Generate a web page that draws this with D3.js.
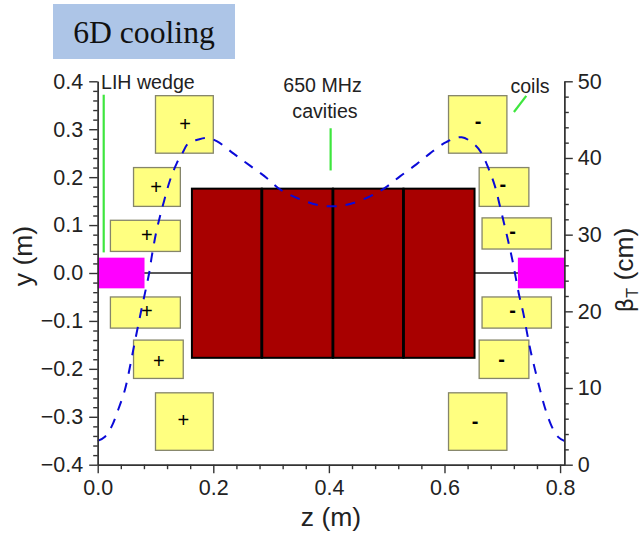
<!DOCTYPE html>
<html>
<head>
<meta charset="utf-8">
<script src="https://cdn.jsdelivr.net/npm/d3@7"></script>
<style>
body { margin: 0; background: #fff; }
text { font-family: "Liberation Sans", sans-serif; fill: #222; }
</style>
</head>
<body>
<script>
const zTicks = [0, 0.2, 0.4, 0.6, 0.8]
const yTicks = [-0.4, -0.3, -0.2, -0.1, 0, 0.1, 0.2, 0.3, 0.4]
const betaTicks = [0, 10, 20, 30, 40, 50]

// coil boxes, z and y in metres
const coilZ0 = [0.100, 0.062, 0.022, 0.022, 0.062, 0.100, 0.607, 0.660, 0.665, 0.665, 0.660, 0.607]
const coilZ1 = [0.200, 0.143, 0.143, 0.143, 0.148, 0.200, 0.708, 0.746, 0.785, 0.785, 0.746, 0.708]
const coilY0 = [0.250, 0.139, 0.045, -0.115, -0.220, -0.370, 0.250, 0.139, 0.050, -0.115, -0.220, -0.370]
const coilY1 = [0.370, 0.220, 0.110, -0.050, -0.140, -0.250, 0.370, 0.220, 0.115, -0.050, -0.140, -0.250]
const signText = ['+', '+', '+', '+', '+', '+', '-', '-', '-', '-', '-', '-']
const signZ = [0.151, 0.101, 0.085, 0.085, 0.106, 0.148, 0.658, 0.701, 0.718, 0.718, 0.699, 0.653]
const signY = [0.311, 0.179, 0.079, -0.079, -0.183, -0.307, 0.317, 0.185, 0.088, -0.077, -0.180, -0.309]

const cavityEdges = [0.163, 0.284, 0.407, 0.529, 0.652]
const cavityTop = 0.176
const cavityBottom = -0.177

const wedgeZ0 = [0, 0.727]
const wedgeZ1 = [0.081, 0.807]
const wedgeHalf = 0.032

const betaZ = [0, 0.0126, 0.0242, 0.0356, 0.0472, 0.0559, 0.0616, 0.0685, 0.0761, 0.083, 0.0893, 0.0934, 0.1009, 0.1078, 0.1152, 0.1251, 0.1367, 0.1471, 0.1567, 0.174, 0.1886, 0.2059, 0.2346, 0.2635, 0.2924, 0.3154, 0.3443, 0.3789, 0.4076, 0.4365, 0.4711, 0.4971, 0.523, 0.5519, 0.575, 0.6038, 0.6298, 0.6528, 0.6644, 0.6758, 0.6874, 0.696, 0.703, 0.7104, 0.718, 0.7289, 0.7363, 0.7433, 0.7491, 0.7566, 0.7652, 0.7739, 0.7855, 0.7969, 0.8073]
const betaVal = [3.1, 3.65, 5.0, 7.2, 9.8, 12.8, 15.0, 17.6, 20.4, 22.8, 25.1, 27.1, 30.2, 32.4, 34.5, 37.1, 39.3, 40.7, 41.9, 42.4, 42.6, 42.2, 40.6, 39.0, 37.4, 35.9, 34.8, 33.9, 33.7, 34.0, 35.0, 36.1, 37.6, 39.2, 40.6, 42.1, 42.7, 41.7, 40.6, 38.7, 36.3, 33.7, 31.5, 29.1, 26.5, 22.2, 19.8, 17.0, 14.8, 12.4, 9.8, 7.4, 5.0, 3.6, 3.1]

// green pointers: [z0, y0, z1, y1]
const pointers = [
    [0.0104, 0.372, 0.0104, 0.043],
    [0.403, 0.302, 0.403, 0.214],
    [0.7202, 0.336, 0.7415, 0.3695]
]

const margin = { left: 97.7, top: 81.3, right: 76.7, bottom: 68.3 }
const width = 641
const height = 533

const x = d3.scaleLinear().domain([0, 0.8073]).range([margin.left, width - margin.right])
const y = d3.scaleLinear().domain([-0.4, 0.4]).range([height - margin.bottom, margin.top])
const yBeta = d3.scaleLinear().domain([0, 50]).range([height - margin.bottom, margin.top])

const svg = d3.select('body').append('svg')
    .attr('width', width)
    .attr('height', height)
    .attr('viewBox', `0 0 ${width} ${height}`)
    .style('display', 'block')

// title
svg.append('rect').attr('x', 53).attr('y', 4).attr('width', 182).attr('height', 55).attr('fill', '#adc5e7')
svg.append('text').attr('x', 144).attr('y', 43).attr('text-anchor', 'middle')
    .style('font-family', '"Liberation Serif", serif').style('font-size', '31.7px').style('fill', '#111')
    .text('6D cooling')

// beam line
svg.append('line').attr('x1', x(0)).attr('x2', x(0.8073)).attr('y1', y(0)).attr('y2', y(0))
    .attr('stroke', '#222').attr('stroke-width', 1.4)

// wedges
svg.selectAll('.wedge').data(wedgeZ0).enter().append('rect')
    .attr('class', 'wedge')
    .attr('x', d => x(d))
    .attr('width', (d, i) => x(wedgeZ1[i]) - x(d))
    .attr('y', y(wedgeHalf))
    .attr('height', y(-wedgeHalf) - y(wedgeHalf))
    .attr('fill', '#ff00ff')

// coils
svg.selectAll('.coil').data(coilZ0).enter().append('rect')
    .attr('class', 'coil')
    .attr('x', d => x(d))
    .attr('width', (d, i) => x(coilZ1[i]) - x(d))
    .attr('y', (d, i) => y(coilY1[i]))
    .attr('height', (d, i) => y(coilY0[i]) - y(coilY1[i]))
    .attr('fill', '#ffff80')
    .attr('stroke', '#85856a')
    .attr('stroke-width', 1.3)

svg.selectAll('.sign').data(signText).enter().append('text')
    .attr('class', 'sign')
    .attr('x', (d, i) => x(signZ[i]))
    .attr('y', (d, i) => y(signY[i]) + 7)
    .attr('text-anchor', 'middle')
    .style('font-size', '20px')
    .style('font-weight', d => d === '-' ? 'bold' : 'normal')
    .style('fill', '#000')
    .text(d => d)

// cavities
svg.selectAll('.cavity').data(cavityEdges.slice(1)).enter().append('rect')
    .attr('class', 'cavity')
    .attr('x', (d, i) => x(cavityEdges[i]))
    .attr('width', (d, i) => x(d) - x(cavityEdges[i]))
    .attr('y', y(cavityTop))
    .attr('height', y(cavityBottom) - y(cavityTop))
    .attr('fill', '#a80000')
    .attr('stroke', '#000')
    .attr('stroke-width', 2)

// thicker walls between cavities
svg.selectAll('.wall').data(cavityEdges.slice(1, -1)).enter().append('line')
    .attr('class', 'wall')
    .attr('x1', d => x(d)).attr('x2', d => x(d))
    .attr('y1', y(cavityTop)).attr('y2', y(cavityBottom))
    .attr('stroke', '#000')
    .attr('stroke-width', 2.8)

// beta function
const line = d3.line().x((d, i) => x(betaZ[i])).y(d => yBeta(d)).curve(d3.curveCatmullRom)
svg.append('path').datum(betaVal)
    .attr('d', line)
    .attr('fill', 'none')
    .attr('stroke', '#0a0ad8')
    .attr('stroke-width', 2)
    .attr('stroke-dasharray', '10 9')

// pointers
svg.selectAll('.pointer').data(pointers).enter().append('line')
    .attr('class', 'pointer')
    .attr('x1', d => x(d[0])).attr('y1', d => y(d[1]))
    .attr('x2', d => x(d[2])).attr('y2', d => y(d[3]))
    .attr('stroke', '#3ee63e').attr('stroke-width', 2.2)

// axes
const minorOf = (ticks, n) => d3.range(ticks.length - 1).flatMap(i =>
    d3.range(1, n).map(k => ticks[i] + (ticks[i + 1] - ticks[i]) * k / n))

function styleAxis(g) {
    g.selectAll('path,line').attr('stroke', '#333').attr('stroke-width', 1.4)
    g.selectAll('text').style('font-size', '21.5px').attr('fill', '#222')
}

const bottomY = height - margin.bottom
const rightX = width - margin.right

svg.append('g').attr('transform', `translate(0,${bottomY})`)
    .call(d3.axisBottom(x).tickValues(minorOf(zTicks, 5)).tickSize(4.5).tickFormat('').tickSizeOuter(0))
    .call(styleAxis)
svg.append('g').attr('transform', `translate(0,${bottomY})`)
    .call(d3.axisBottom(x).tickValues(zTicks).tickSize(8.5).tickPadding(7).tickFormat(d3.format('.1f')).tickSizeOuter(0))
    .call(styleAxis)

svg.append('g').attr('transform', `translate(${margin.left},0)`)
    .call(d3.axisLeft(y).tickValues(minorOf(yTicks, 5)).tickSize(4.5).tickFormat('').tickSizeOuter(0))
    .call(styleAxis)
svg.append('g').attr('transform', `translate(${margin.left},0)`)
    .call(d3.axisLeft(y).tickValues(yTicks).tickSize(8.5).tickPadding(6).tickFormat(d3.format('.1f')).tickSizeOuter(0))
    .call(styleAxis)

svg.append('g').attr('transform', `translate(${rightX},0)`)
    .call(d3.axisRight(yBeta).tickValues(minorOf(betaTicks, 5)).tickSize(4.5).tickFormat('').tickSizeOuter(0))
    .call(styleAxis)
svg.append('g').attr('transform', `translate(${rightX},0)`)
    .call(d3.axisRight(yBeta).tickValues(betaTicks).tickSize(8.5).tickPadding(5).tickSizeOuter(0))
    .call(styleAxis)

// axis titles
svg.append('text').attr('x', 331).attr('y', 526).attr('text-anchor', 'middle').style('font-size', '26.5px').text('z (m)')
svg.append('text').attr('transform', 'translate(32,256) rotate(-90)').attr('text-anchor', 'middle').style('font-size', '26.5px').text('y (m)')

const betaTitle = svg.append('text').attr('transform', 'translate(633,270) rotate(-90)').attr('text-anchor', 'middle').style('font-size', '26.5px')
betaTitle.append('tspan').style('font-family', '"DejaVu Sans", sans-serif').style('font-size', '23px').text('β')
betaTitle.append('tspan').attr('dy', 5).style('font-size', '16px').text('T')
betaTitle.append('tspan').attr('dy', -5).text(' (cm)')

// annotations
const labelSize = '19.6px'
svg.append('text').attr('x', 101).attr('y', 89).style('font-size', labelSize).text('LIH wedge')
svg.append('text').attr('x', 322.5).attr('y', 92).attr('text-anchor', 'middle').style('font-size', labelSize).text('650 MHz')
svg.append('text').attr('x', 325).attr('y', 118).attr('text-anchor', 'middle').style('font-size', labelSize).text('cavities')
svg.append('text').attr('x', 530).attr('y', 93).attr('text-anchor', 'middle').style('font-size', labelSize).text('coils')
</script>
</body>
</html>
